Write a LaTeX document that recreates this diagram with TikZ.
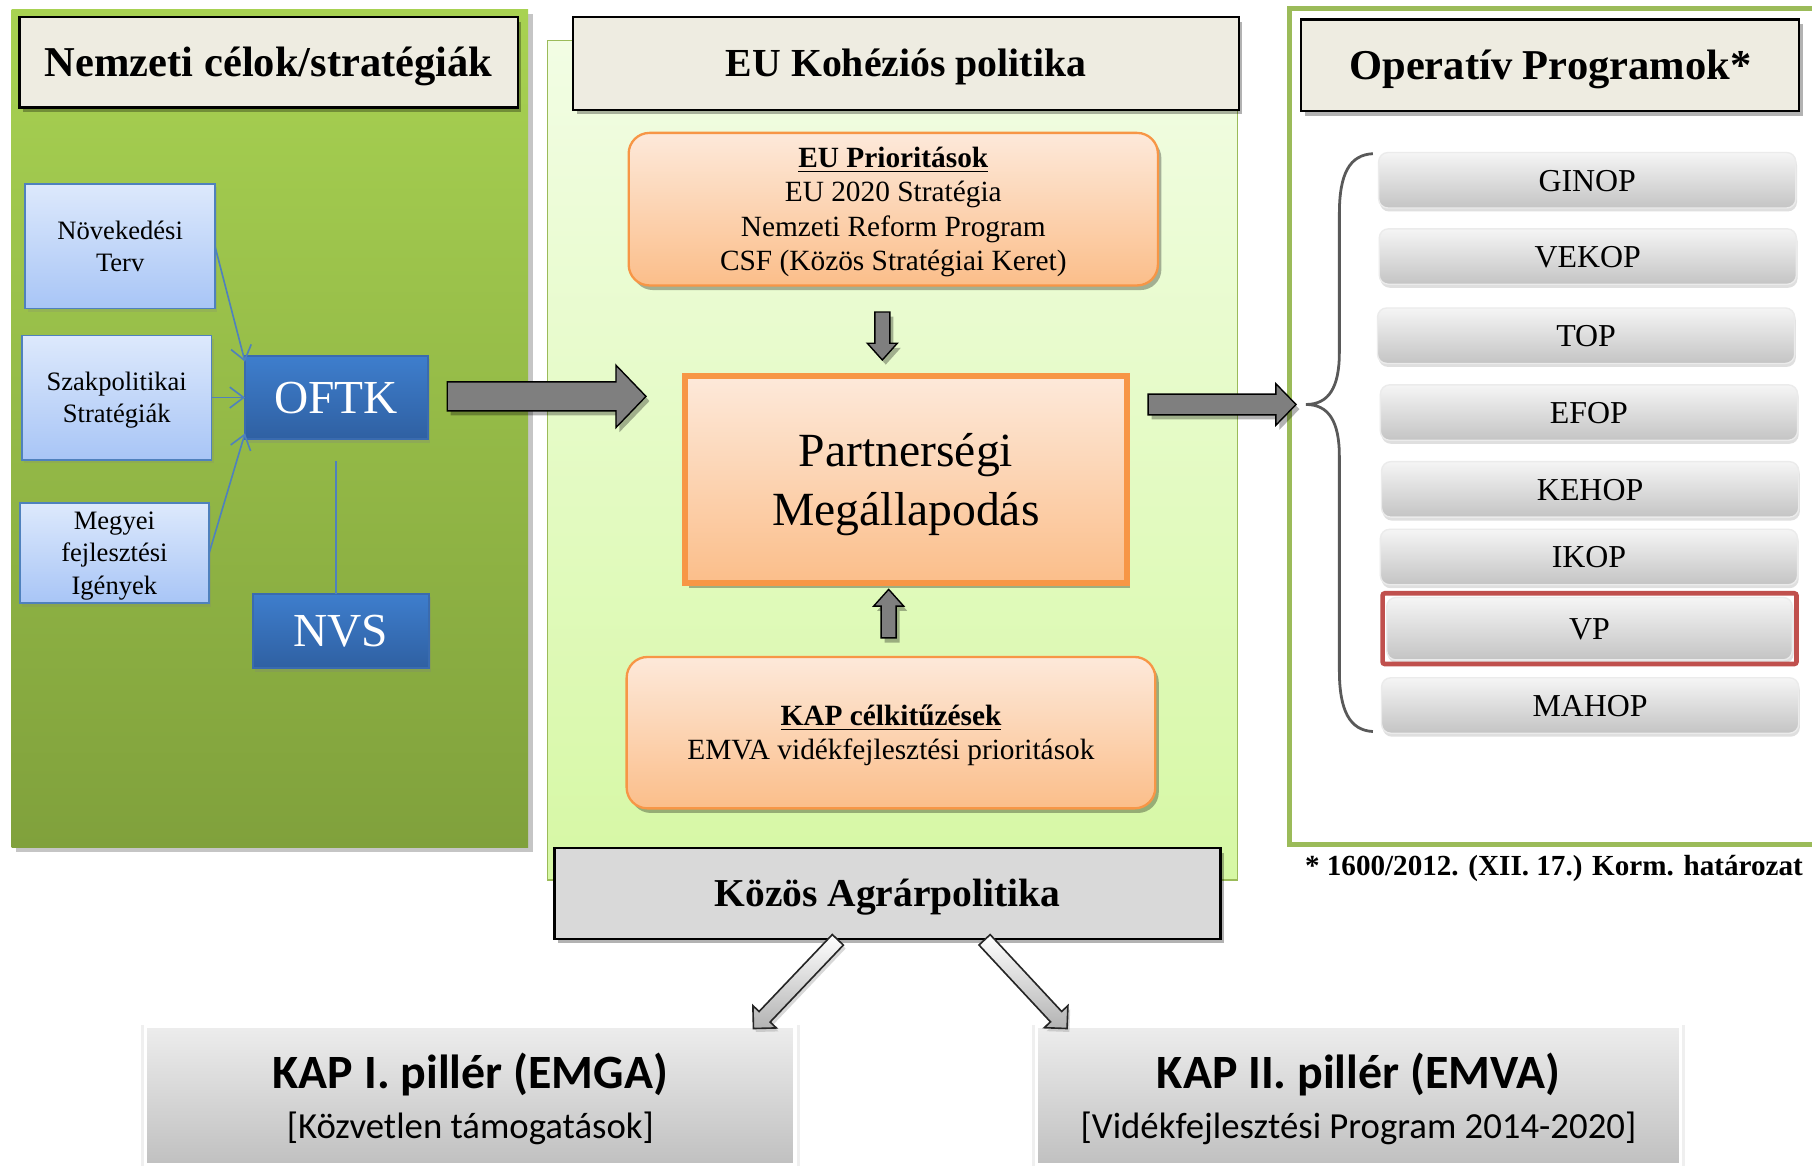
\documentclass[tikz,border=0pt]{standalone}
\usepackage{fontspec}
\setmainfont{Liberation Serif}
\newfontfamily\calibrifont{Carlito}
\usetikzlibrary{calc,shadows,arrows.meta,fit}

\definecolor{beige}{HTML}{EEECE1}
\definecolor{lgtop}{HTML}{A8D252}
\definecolor{lgbot}{HTML}{80A13C}
\definecolor{cgtop}{HTML}{F2FDE4}
\definecolor{cgbot}{HTML}{D6F8A4}
\definecolor{cgborder}{HTML}{9BBB59}
\definecolor{ortop}{HTML}{FDE9DA}
\definecolor{orbot}{HTML}{FBBE8A}
\definecolor{orbd}{HTML}{F79646}
\definecolor{bltop}{HTML}{DDE9FC}
\definecolor{blbot}{HTML}{A8C5F6}
\definecolor{blbd}{HTML}{4F81BD}
\definecolor{dbtop}{HTML}{3E7ECD}
\definecolor{dbbot}{HTML}{2F60A2}
\definecolor{dbbd}{HTML}{3A6BAF}
\definecolor{prtop}{HTML}{F5F5F5}
\definecolor{prbot}{HTML}{C4C4C4}
\definecolor{kozosfill}{HTML}{D9D9D9}
\definecolor{bbtop}{HTML}{EDEDED}
\definecolor{bbbot}{HTML}{C0C0C0}
\definecolor{arrgray}{HTML}{7F7F7F}
\definecolor{vpred}{HTML}{C0504D}
\definecolor{bracegray}{HTML}{595959}

% line struts imitating the line box of the original (ascent/descent of the font)
\newcommand{\tst}{\rule[-0.216em]{0pt}{1.107em}}
\newcommand{\cst}{\rule[-0.269em]{0pt}{1.221em}}

\newcommand{\blockarrow}[6]{%
  \coordinate (ba-s) at #2;
  \coordinate (ba-e) at #3;
  \coordinate (ba-h) at ($(ba-e)!#6!(ba-s)$);
  \path[#1] ($(ba-s)!#4!90:(ba-e)$) -- ($(ba-h)!#4!90:(ba-e)$) -- ($(ba-h)!#5!90:(ba-e)$) -- (ba-e)
    -- ($(ba-h)!#5!-90:(ba-e)$) -- ($(ba-h)!#4!-90:(ba-e)$) -- ($(ba-s)!#4!-90:(ba-e)$) -- cycle;
}

\tikzset{
  softshadow/.style={drop shadow={shadow xshift=1.5pt, shadow yshift=-2pt, opacity=0.3, fill=black}},
  titlebox/.style={draw=black, line width=1pt, fill=beige, font=\bfseries\fontsize{18.4}{22}\selectfont, softshadow},
  bluebox/.style={draw=blbd, line width=0.8pt, top color=bltop, bottom color=blbot, align=center,
    font=\fontsize{11.5}{13.9}\selectfont, minimum width=82pt, drop shadow={shadow xshift=1pt, shadow yshift=-1.5pt, opacity=0.2}},
  darkbox/.style={draw=dbbd, line width=0.8pt, top color=dbtop, bottom color=dbbot, text=white,
    font=\fontsize{20.5}{24}\selectfont, drop shadow={shadow xshift=1pt, shadow yshift=-1.5pt, opacity=0.25}},
  orangebox/.style={draw=orbd, line width=1pt, top color=ortop, bottom color=orbot, rounded corners=9pt,
    align=center, font=\fontsize{12.7}{14.85}\selectfont, softshadow},
  pmbox/.style={draw=orbd, line width=2.7pt, top color=ortop, bottom color=orbot, align=center,
    font=\fontsize{20.6}{25.5}\selectfont, minimum width=191pt, minimum height=89.5pt, softshadow},
  progbox/.style={rounded corners=4pt, top color=prtop, bottom color=prbot, draw=white!92!black, line width=0.6pt,
    minimum width=180.5pt, minimum height=24pt, font=\fontsize{13.8}{16}\selectfont,
    drop shadow={shadow xshift=0.5pt, shadow yshift=-1.5pt, opacity=0.25}},
  bigbox/.style={draw=white, line width=1.5pt, top color=bbtop, bottom color=bbbot, align=center,
    minimum height=60pt, font=\calibrifont\fontsize{15.9}{21.7}\selectfont,
    drop shadow={shadow xshift=0pt, shadow yshift=0pt, shadow scale=1.015, opacity=0.12}},
  bluearrow/.style={draw=blbd, line width=0.7pt, -{Straight Barb[length=6pt,width=9pt]}},
  bigarrow/.style={fill=arrgray, draw=black, line width=0.6pt, softshadow},
  lightarrow/.style={top color=white, bottom color=black!30, draw=black!85, line width=0.7pt,
    drop shadow={shadow xshift=1pt, shadow yshift=-1.5pt, opacity=0.3}},
}

\begin{document}
\begin{tikzpicture}[x=0.5pt,y=-0.5pt, every node/.style={inner sep=0pt, outer sep=0pt}]
\useasboundingbox (0,0) rectangle (1568,1013);
\fill[white] (0,0) rectangle (1568,1013);

% ---------- left panel ----------
\node[top color=lgtop, bottom color=lgbot, minimum width=223.5pt, minimum height=362.5pt,
  drop shadow={shadow xshift=2pt, shadow yshift=-2pt, opacity=0.45}] (leftpanel) at (233.5,370.5) {};
\node[titlebox, minimum width=215.5pt, minimum height=39pt] (lt) at (232.5,54) {\tst Nemzeti célok/stratégiák};
\node[bluebox, minimum height=54pt] (nov) at (104,213) {\tst Növekedési\\\tst Terv};
\node[bluebox, minimum height=53.75pt] (szak) at (101,344) {\tst Szakpolitikai\\\tst Stratégiák};
\node[bluebox, minimum height=43.5pt] (megy) at (99,478.5) {\tst Megyei\\\tst fejlesztési\\\tst Igények};
\node[darkbox, minimum width=79pt, minimum height=36.2pt] (oftk) at (291,344) {\tst OFTK};
\node[darkbox, minimum width=76pt, minimum height=32.2pt] (nvs) at (295,546) {\tst NVS};
\draw[bluearrow] (nov.east) -- ([yshift=15.5pt]oftk.west);
\draw[bluearrow] (szak.east) -- (oftk.west);
\draw[bluearrow] (megy.east) -- ([yshift=-15.5pt]oftk.west);
\draw[draw=blbd, line width=0.7pt] ([yshift=-9.5pt]oftk.south) -- (oftk.south |- nvs.north);

% ---------- center panel ----------
\node[draw=cgborder, line width=0.6pt, top color=cgtop, bottom color=cgbot, minimum width=298.5pt,
  minimum height=363.25pt] (cp) at (772.5,398.25) {};
\node[titlebox, font=\bfseries\fontsize{17.2}{21}\selectfont, minimum width=288pt, minimum height=40pt] (ct) at (784,55) {\tst EU Kohéziós politika};
\node[orangebox, minimum width=229pt, minimum height=66pt] (eup) at (773,181)
  {\tst\underline{\textbf{EU Prioritások}}\\\tst EU 2020 Stratégia\\\tst Nemzeti Reform Program\\\tst CSF (Közös Stratégiai Keret)};
\node[pmbox] (pm) at (784,415) {\tst Partnerségi\\\tst Megállapodás};
\node[orangebox, minimum width=228.75pt, minimum height=65.5pt] (kapc) at (771,634)
  {\tst\underline{\textbf{KAP célkitűzések}}\\\tst EMVA vidékfejlesztési prioritások};
\node[draw=black, line width=1pt, fill=kozosfill, minimum width=288.25pt, minimum height=39.25pt,
  font=\bfseries\fontsize{17.1}{20}\selectfont, softshadow] (kozos) at (768,773) {\tst Közös Agrárpolitika};

% ---------- right panel ----------
\node[draw=cgborder, line width=2pt, fill=white, minimum width=232pt, minimum height=361.5pt] (rp) at (1348,369) {};
\node[titlebox, minimum width=215.5pt, minimum height=39.5pt] (rt) at (1341.5,56.5) {\tst Operatív Programok*};
\node[progbox] (ginop) at (1373.5,156) {\tst GINOP};
\node[progbox] (vekop) at (1374,222) {\tst VEKOP};
\node[progbox] (top) at (1372.5,290.5) {\tst TOP};
\node[progbox] (efop) at (1375,357) {\tst EFOP};
\node[progbox] (kehop) at (1376,423.5) {\tst KEHOP};
\node[progbox] (ikop) at (1375,482) {\tst IKOP};
\node[progbox, minimum height=27pt, minimum width=175.5pt] (vp) at (1375.5,544) {\tst VP};
\node[draw=vpred, line width=2pt, rounded corners=1pt, inner sep=1.8pt, fit=(vp)] (vpframe) {};
\node[progbox] (mahop) at (1376,610.5) {\tst MAHOP};
\coordinate (bracetip) at (1130,350);
\draw[bracegray, line width=1.2pt] (1188,133) .. controls (1168,134) and (1159,150) .. (1159,185)
  -- (1159,305) .. controls (1159,335) and (1150,350) .. (bracetip)
  .. controls (1150,350) and (1159,365) .. (1159,395)
  -- (1159,580) .. controls (1159,615) and (1168,632) .. (1188,633);
\node[font=\bfseries\fontsize{12.6}{15}\selectfont, anchor=base east] (foot) at (1560,758)
  {* 1600/2012. (XII. 17.) Korm. határozat};

% ---------- bottom ----------
\node[bigbox, minimum width=281pt] (kap1) at (407,948)
  {{\bfseries\fontsize{20.7}{21.7}\selectfont\cst KAP I. pillér (EMGA)}\\\cst{}[Közvetlen támogatások]};
\node[bigbox, minimum width=278.5pt] (kap2) at (1175.5,948)
  {{\bfseries\fontsize{20.7}{21.7}\selectfont\cst KAP II. pillér (EMVA)}\\\cst{}[Vidékfejlesztési Program 2014-2020]};

% ---------- block arrows ----------
\blockarrow{bigarrow}{($(oftk.east)+(17,-1)$)}{($(pm.west|-oftk.east)+(-34,-1)$)}{6.25pt}{13.5pt}{13pt}
\blockarrow{bigarrow}{($(eup.south)+(-9.5,23)$)}{($(pm.north)+(-20.5,-14)$)}{3.25pt}{6.5pt}{7.25pt}
\blockarrow{bigarrow}{($(kapc.north)+(-2,-16.5)$)}{($(pm.south)+(-15,5.5)$)}{3.25pt}{6.5pt}{7.25pt}
\blockarrow{bigarrow}{($(pm.east)+(18.5,-65)$)}{($(bracetip)+(-8.5,0)$)}{4.5pt}{9pt}{8.75pt}
\blockarrow{lightarrow}{($(kozos.south)+(-43,1)$)}{($(kap1.north east)+(-36,2)$)}{3.3pt}{7pt}{7pt}
\blockarrow{lightarrow}{($(kozos.south)+(84,1)$)}{($(kap2.north west)+(26.4,2)$)}{3.3pt}{7pt}{7pt}
\end{tikzpicture}
\end{document}
